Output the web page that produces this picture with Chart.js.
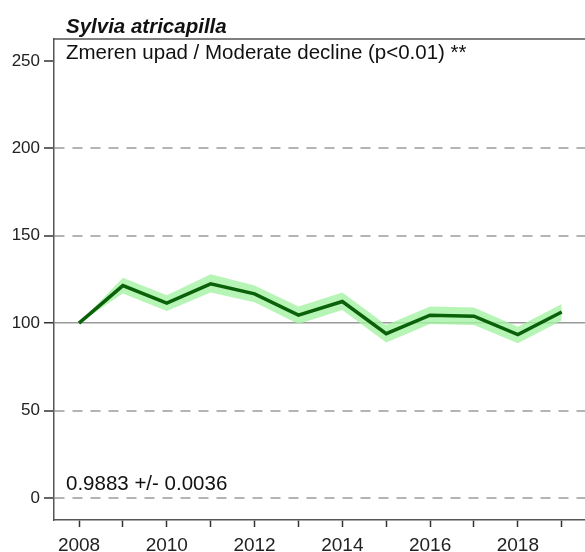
<!DOCTYPE html>
<html>
<head>
<meta charset="utf-8">
<script src="https://cdn.jsdelivr.net/npm/chart.js@4"></script>
<style>
  body { margin: 0; background: #fff; overflow: hidden; }
  #wrap { width: 585px; height: 552px; }
</style>
</head>
<body>
<div id="wrap"><canvas id="trendChart" width="585" height="552"></canvas></div>
<script>
// ---------- Data ----------
const years = [2008, 2009, 2010, 2011, 2012, 2013, 2014, 2015, 2016, 2017, 2018, 2019];
const indexValues = [100, 121.5, 111.5, 122.5, 116.8, 104.6, 112.4, 94.0, 104.6, 104.0, 93.5, 106.4];
const upperCI = [100, 126.0, 116.0, 128.0, 121.5, 109.5, 117.5, 99.0, 109.5, 109.0, 98.0, 111.0];
const lowerCI = [100, 117.0, 107.0, 117.5, 112.0, 99.5, 107.5, 89.0, 99.5, 99.0, 88.5, 101.5];
const yTicks = [0, 50, 100, 150, 200, 250];
const xLabelYears = [2008, 2010, 2012, 2014, 2016, 2018];

const speciesName = "Sylvia atricapilla";
const trendText = "Zmeren upad / Moderate decline (p<0.01) **";
const slopeText = "0.9883 +/- 0.0036";

const FONT = "'Liberation Sans', Arial, sans-serif";

const toPoints = (arr) => years.map((y, i) => ({ x: y, y: arr[i] }));

// ---------- Texts + top frame ----------
const textPlugin = {
  id: "texts",
  afterDraw(chart) {
    const { ctx, chartArea } = chart;
    ctx.save();
    // top frame line
    ctx.strokeStyle = "#555";
    ctx.lineWidth = 1.5;
    ctx.beginPath();
    ctx.moveTo(chartArea.left, chartArea.top);
    ctx.lineTo(chartArea.right, chartArea.top);
    ctx.stroke();

    ctx.fillStyle = "#111";
    ctx.textAlign = "left";
    ctx.textBaseline = "alphabetic";
    ctx.font = "bold italic 20.5px " + FONT;
    ctx.fillText(speciesName, 66, 33);
    ctx.font = "20.5px " + FONT;
    ctx.fillText(trendText, 66, 59);
    ctx.fillText(slopeText, 66, 490);
    ctx.restore();
  },
};

// ---------- Chart ----------
new Chart(document.getElementById("trendChart"), {
  type: "line",
  data: {
    datasets: [
      {
        label: "upper",
        data: toPoints(upperCI),
        borderWidth: 0,
        pointRadius: 0,
        fill: "+1",
        backgroundColor: "rgba(165, 242, 165, 0.8)",
        order: 2,
      },
      {
        label: "lower",
        data: toPoints(lowerCI),
        borderWidth: 0,
        pointRadius: 0,
        fill: false,
        order: 2,
      },
      {
        label: "index",
        data: toPoints(indexValues),
        borderColor: "#0a610a",
        borderWidth: 3.5,
        pointRadius: 0,
        fill: false,
        order: 1,
      },
    ],
  },
  options: {
    responsive: false,
    animation: false,
    layout: { padding: { top: 39, right: 0, left: 0, bottom: 0 } },
    plugins: {
      legend: { display: false },
      tooltip: { enabled: false },
    },
    scales: {
      x: {
        type: "linear",
        min: 2007.43,
        max: 2019.53,
        afterBuildTicks: (scale) => { scale.ticks = years.map((v) => ({ value: v })); },
        afterFit: (scale) => { scale.height = 32; },
        ticks: {
          autoSkip: false,
          maxRotation: 0,
          padding: 7,
          color: "#222",
          font: { family: FONT, size: 19 },
          callback: (v) => (xLabelYears.includes(v) ? String(v) : ""),
        },
        grid: {
          drawOnChartArea: false,
          tickLength: 7,
          tickColor: "#333",
          tickWidth: 1.5,
        },
        border: { color: "#555", width: 1.5 },
      },
      y: {
        min: -12.6,
        max: 262.6,
        afterBuildTicks: (scale) => { scale.ticks = yTicks.map((v) => ({ value: v })); },
        afterFit: (scale) => { scale.width = 54; },
        ticks: {
          padding: 4,
          color: "#222",
          font: { family: FONT, size: 17 },
        },
        grid: {
          color: (c) => {
            const v = c.tick ? c.tick.value : null;
            if (v === 250) return "rgba(0,0,0,0)";
            if (v === 100) return "#9a9a9a";
            return "#b4b4b4";
          },
          lineWidth: (c) => (c.tick && c.tick.value === 100 ? 1.5 : 2),
          tickLength: 10,
          tickColor: "#333",
          tickWidth: 1.5,
          tickBorderDash: [],
        },
        border: {
          color: "#555",
          width: 1.5,
          dash: (c) => (c.tick && c.tick.value === 100 ? [] : [10, 8]),
        },
      },
    },
  },
  plugins: [textPlugin],
});
</script>
</body>
</html>
